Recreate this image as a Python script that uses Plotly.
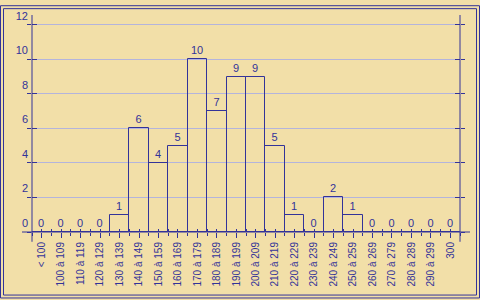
import plotly.graph_objects as go

categories = ["< 100", "100 à 109", "110 à 119", "120 à 129", "130 à 139", "140 à 149",
              "150 à 159", "160 à 169", "170 à 179", "180 à 189", "190 à 199", "200 à 209",
              "210 à 219", "220 à 229", "230 à 239", "240 à 249", "250 à 259", "260 à 269",
              "270 à 279", "280 à 289", "290 à 299", "300"]
counts = [0, 0, 0, 0, 1, 6, 4, 5, 10, 7, 9, 9, 5, 1, 0, 2, 1, 0, 0, 0, 0, 0]
y_ticks = [0, 2, 4, 6, 8, 10, 12]

W, H = 480, 300
L, R, T, B = 32, 20, 10, 68
PW, PH = W - L - R, H - T - B
BLUE = "#333399"
GRID = "#b4b4dc"
WOOD = "#f2dfa8"
FONT = "Liberation Sans, Arial, sans-serif"

def px(x):
    return (x - L) / PW

def py(y):
    return (H - B - y) / PH

n = len(categories)
xr = [-0.5, n - 0.5]
yr = [0, 12 + 10 / (212 / 12)]

fig = go.Figure()
fig.add_trace(go.Bar(
    x=categories, y=counts, width=1,
    marker=dict(color="rgba(0,0,0,0)", line=dict(color=BLUE, width=1)),
    text=[str(v) for v in counts], textposition="outside", cliponaxis=False,
    textfont=dict(color=BLUE, size=11, family=FONT), hoverinfo="skip",
))
for xa, ya in [("x2", "y"), ("x3", "y"), ("x4", "y"), ("x", "y2"), ("x", "y3"), ("x", "y4")]:
    fig.add_trace(go.Scatter(x=categories, y=[0] * n, mode="none", xaxis=xa, yaxis=ya,
                             showlegend=False, hoverinfo="skip"))

common_x = dict(type="category", categoryorder="array", categoryarray=categories,
                range=xr, showgrid=False, zeroline=False, showline=False, tickcolor=BLUE)
fig.update_layout(
    width=W, height=H, margin=dict(l=L, r=R, t=T, b=B),
    paper_bgcolor=WOOD, plot_bgcolor=WOOD, showlegend=False, bargap=0,
    font=dict(family=FONT, size=10, color=BLUE),
    xaxis=dict(**common_x, ticks="outside", ticklen=5, tickangle=-90,
               tickfont=dict(family=FONT, size=10, color=BLUE)),
    xaxis2=dict(**common_x, overlaying="x", anchor="y", ticks="inside", ticklen=3, showticklabels=False),
    xaxis3=dict(**common_x, overlaying="x", anchor="y", ticks="outside", ticklen=3,
                tickson="boundaries", showticklabels=False),
    xaxis4=dict(**common_x, overlaying="x", anchor="y", ticks="inside", ticklen=3,
                tickson="boundaries", showticklabels=False),
    yaxis=dict(range=yr, tickmode="array", tickvals=y_ticks, ticks="inside", ticklen=5,
               tickcolor=BLUE, showgrid=True, gridcolor=GRID, gridwidth=1, zeroline=False,
               showline=False, ticklabelshift=-9, ticklabelstandoff=3,
               tickfont=dict(family=FONT, size=11, color=BLUE)),
    yaxis2=dict(range=yr, overlaying="y", side="left", anchor="x", tickmode="array", tickvals=y_ticks,
                ticks="outside", ticklen=4, tickcolor=BLUE, showticklabels=False, showgrid=False,
                zeroline=False),
    yaxis3=dict(range=yr, overlaying="y", side="right", anchor="x", tickmode="array", tickvals=y_ticks,
                ticks="outside", ticklen=4, tickcolor=BLUE, showticklabels=False, showgrid=False,
                zeroline=False),
    yaxis4=dict(range=yr, overlaying="y", side="right", anchor="x", tickmode="array", tickvals=y_ticks,
                ticks="inside", ticklen=5, tickcolor=BLUE, showticklabels=False, showgrid=False,
                zeroline=False),
)

shapes = []
line = dict(color=BLUE, width=1)
# x axis line extending beyond plot
shapes.append(dict(type="line", xref="paper", yref="paper", x0=px(22), x1=px(470), y0=0, y1=0, line=line, layer="above"))
# left and right axis lines
for xx in (0, 1):
    shapes.append(dict(type="line", xref="paper", yref="paper", x0=xx, x1=xx, y0=py(242), y1=1, line=line, layer="above"))
# double frame
for off in (0.5, 3.5):
    shapes.append(dict(type="rect", xref="paper", yref="paper", x0=px(off), x1=px(W - off),
                       y0=py(H - off), y1=py(off), line=dict(color=BLUE, width=1), layer="above"))
fig.update_layout(shapes=shapes)

fig.write_html("out.html")
